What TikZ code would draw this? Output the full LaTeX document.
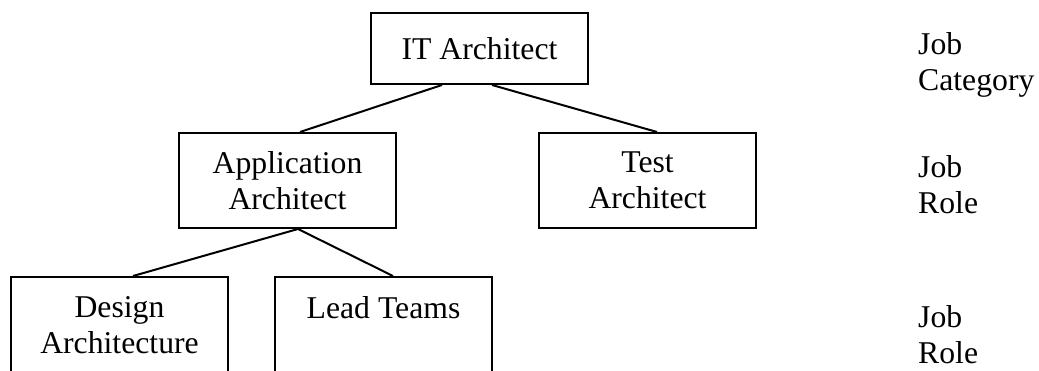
\documentclass[tikz,border=0pt]{standalone}
\usepackage{fontspec}
\setmainfont{Liberation Serif}
\usetikzlibrary{calc}

\begin{document}
\begin{tikzpicture}[
    x=1pt, y=-1pt,
    every node/.style={font=\fontsize{31.7}{36}\selectfont, inner sep=0pt},
    rolebox/.style={draw, line width=2pt, minimum width=217pt,
                    minimum height=95pt, align=center},
    tag/.style={anchor=north west, align=left},
    link/.style={line width=2pt}
  ]
  \useasboundingbox (0,0) rectangle (1039,371);

  % hierarchy boxes
  \node[rolebox, minimum height=71pt] (it)   at (479.5, 48.5) {IT Architect};
  \node[rolebox] (app)  at (287.5, 180.5) {Application\\Architect};
  \node[rolebox] (test) at (647.5, 180.5) {Test\\Architect};
  \node[rolebox, minimum height=97pt] (design) at (119.5, 325.5) {Design\\Architecture};
  \node[rolebox, minimum height=97pt] (lead)   at (383.5, 325.5) {Lead Teams\\\mbox{}};

  % connectors
  \draw[link] ($(it.south)+(-37.5,0)$) -- ($(app.north)+(12.5,0)$);
  \draw[link] ($(it.south)+(12.5,0)$)  -- ($(test.north)+(9.5,0)$);
  \draw[link] ($(app.south)+(10.5,0)$) -- ($(design.north)+(13.5,0)$);
  \draw[link] ($(app.south)+(10.5,0)$) -- ($(lead.north)+(9.5,0)$);

  % level captions
  \node[tag] (lvl1) at (918, 32)  {Job\\Category};
  \node[tag] (lvl2) at (918, 155) {Job\\Role};
  \node[tag] (lvl3) at (918, 305) {Job\\Role};
\end{tikzpicture}
\end{document}
